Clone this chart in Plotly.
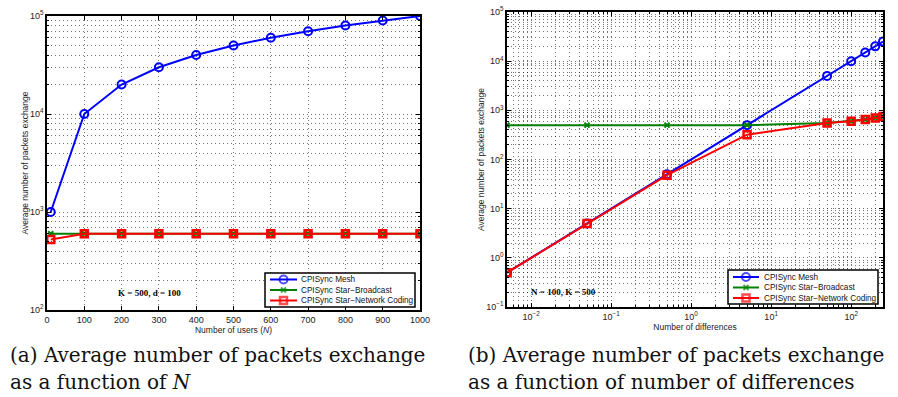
import plotly.graph_objects as go
import numpy as np

# ---------------- data ----------------
users = [10, 100, 200, 300, 400, 500, 600, 700, 800, 900, 1000]
mesh_a = [1000, 10000, 20000, 30000, 40000, 50000, 60000, 70000, 80000, 90000, 100000]
bcast_a = [600, 600, 600, 600, 600, 600, 600, 600, 600, 600, 600]
nc_a = [525, 600, 600, 600, 600, 600, 600, 600, 600, 600, 600]

diffs = [0.005, 0.05, 0.5, 5, 50, 100, 150, 200, 250]
mesh_b = [0.5, 5, 50, 500, 5000, 10000, 15000, 20000, 25000]
bcast_b = [500, 500, 500, 500, 550, 600, 650, 700, 750]
nc_b = [0.5, 5, 48, 320, 550, 600, 650, 700, 750]

names = ["CPISync Mesh", "CPISync Star\u2212Broadcast", "CPISync Star\u2212Network Coding"]

W, H = 898, 397
BLUE, GREEN, RED = "#0000FF", "#008000", "#FF0000"
SANS = "Liberation Sans, Arial, sans-serif"
SERIF = "DejaVu Serif, serif"


def sup(e):
    s = str(e).replace("-", "\u2212")
    return f"10<sup>{s}</sup>"


def minor_vals(lo, hi):
    out = []
    for d in range(lo, hi):
        for m in range(2, 10):
            out.append(m * 10.0 ** d)
    return out


fig = go.Figure()

styles = [
    dict(color=BLUE, symbol="circle-open", size=8, lw=2),
    dict(color=GREEN, symbol="x-thin-open", size=5, lw=2),
    dict(color=RED, symbol="square-open", size=7, lw=2.5),
]

for i, (ys, st) in enumerate(zip([mesh_a, bcast_a, nc_a], styles)):
    fig.add_trace(go.Scatter(
        x=users, y=ys, mode="lines+markers", name=names[i], showlegend=False,
        line=dict(color=st["color"], width=2),
        marker=dict(symbol=st["symbol"], size=st["size"], color=st["color"],
                    line=dict(color=st["color"], width=st["lw"])),
        xaxis="x", yaxis="y"))

for i, (ys, st) in enumerate(zip([mesh_b, bcast_b, nc_b], styles)):
    fig.add_trace(go.Scatter(
        x=diffs, y=ys, mode="lines+markers", name=names[i], showlegend=False,
        line=dict(color=st["color"], width=2),
        marker=dict(symbol=st["symbol"], size=st["size"], color=st["color"],
                    line=dict(color=st["color"], width=st["lw"])),
        xaxis="x2", yaxis="y2"))

GRID = "rgba(0,0,0,0.55)"
DASH = "1px,3px"
common = dict(showline=True, linecolor="black", linewidth=1.5, mirror="allticks",
              ticks="inside", ticklen=4, tickcolor="black", automargin=False,
              showgrid=True, gridcolor=GRID, griddash=DASH, gridwidth=1,
              zeroline=False, tickfont=dict(family=SANS, size=9, color="#222"),
              title_font=dict(family=SANS, size=8.5, color="#222"))

minor_common = dict(showgrid=True, gridcolor=GRID, griddash=DASH, gridwidth=1,
                    ticks="inside", ticklen=2, tickcolor="black")

xd1 = [47 / W, 420 / W]
xd2 = [507 / W, 883 / W]
yd1 = [1 - 310 / H, 1 - 16 / H]
yd2 = [1 - 307 / H, 1 - 12 / H]

fig.update_layout(
    width=W, height=H, margin=dict(l=0, r=0, t=0, b=0),
    paper_bgcolor="white", plot_bgcolor="rgba(0,0,0,0)", showlegend=False,
    xaxis=dict(domain=xd1, range=[0, 1000], tickvals=list(range(0, 1001, 100)),
               title=dict(text="Number of users (<i>N</i>)", standoff=2),
               anchor="y", **common),
    yaxis=dict(domain=yd1, type="log", range=[2, 5],
               tickvals=[1e2, 1e3, 1e4, 1e5], ticktext=[sup(e) for e in range(2, 6)],
               title=dict(text="Average number of packets exchange", standoff=0),
               minor=dict(tickvals=minor_vals(2, 5), **minor_common),
               anchor="x", **common),
    xaxis2=dict(domain=xd2, type="log", range=[np.log10(0.005), np.log10(250)],
                tickvals=[1e-2, 1e-1, 1e0, 1e1, 1e2], ticktext=[sup(e) for e in range(-2, 3)],
                title=dict(text="Number of differences", standoff=2),
                minor=dict(tickvals=minor_vals(-3, 3), **minor_common),
                anchor="y2", **common),
    yaxis2=dict(domain=yd2, type="log", range=[-1, 5],
                tickvals=[10.0 ** e for e in range(-1, 6)], ticktext=[sup(e) for e in range(-1, 6)],
                title=dict(text="Average number of packets exchange", standoff=0),
                minor=dict(tickvals=minor_vals(-1, 5), **minor_common),
                anchor="x2", **common),
    # overlay pixel-space axes used only for the hand-made legends
    xaxis3=dict(domain=[0, 1], range=[0, W], visible=False, fixedrange=True, anchor="y3"),
    yaxis3=dict(domain=[0, 1], range=[H, 0], visible=False, fixedrange=True, anchor="x3"),
)

# ---------------- legends (boxes, samples, labels) ----------------
legend_boxes = [
    dict(box=(265, 273, 415, 307), rows=[279.5, 290, 300.5], line=(270, 297), text_x=299),
    dict(box=(728, 270, 878, 304), rows=[277, 287.5, 298], line=(733, 759), text_x=762),
]
shapes = []
ann = []
for lb in legend_boxes:
    x0, y0, x1, y1 = lb["box"]
    shapes.append(dict(type="rect", xref="x3", yref="y3", x0=x0, y0=y0, x1=x1, y1=y1,
                       fillcolor="white", line=dict(color="black", width=1.5), layer="below"))
    lx0, lx1 = lb["line"]
    for st, yc, nm in zip(styles, lb["rows"], names):
        fig.add_trace(go.Scatter(
            x=[lx0, (lx0 + lx1) / 2, lx1], y=[yc, yc, yc], mode="lines+markers",
            line=dict(color=st["color"], width=2),
            marker=dict(symbol=st["symbol"], size=[0, st["size"], 0], color=st["color"],
                        line=dict(color=st["color"], width=st["lw"])),
            xaxis="x3", yaxis="y3", hoverinfo="skip", showlegend=False))
        ann.append(dict(text=nm, x=lb["text_x"], y=yc, xref="x3", yref="y3",
                        xanchor="left", yanchor="middle", showarrow=False,
                        font=dict(family=SANS, size=8.2, color="#111")))

ann.append(dict(text="<b>K = 500, d = 100</b>", x=116 / W, y=1 - 300 / H, xref="paper", yref="paper",
                showarrow=False, font=dict(family="Liberation Serif, serif", size=9, color="black")))
ann.append(dict(text="<b>N = 100, K = 500</b>", x=563 / W, y=1 - 299 / H, xref="paper", yref="paper",
                showarrow=False, font=dict(family="Liberation Serif, serif", size=9, color="black")))
cap = dict(family=SERIF, size=20, color="#111")
ann.append(dict(text="(a) Average number of packets exchange", x=8 / W, y=1 - 369 / H,
                xref="paper", yref="paper", xanchor="left", yanchor="bottom", showarrow=False, font=cap))
ann.append(dict(text="as a function of <i>N</i>", x=8 / W, y=1 / H,
                xref="paper", yref="paper", xanchor="left", yanchor="bottom", showarrow=False, font=cap))
ann.append(dict(text="(b) Average number of packets exchange", x=466 / W, y=1 - 369 / H,
                xref="paper", yref="paper", xanchor="left", yanchor="bottom", showarrow=False, font=cap))
ann.append(dict(text="as a function of number of differences", x=466 / W, y=1 / H,
                xref="paper", yref="paper", xanchor="left", yanchor="bottom", showarrow=False, font=cap))
fig.update_layout(annotations=ann, shapes=shapes)

fig.write_html("out.html", config={"displayModeBar": False},
               post_script="document.body.style.margin='0px';")
